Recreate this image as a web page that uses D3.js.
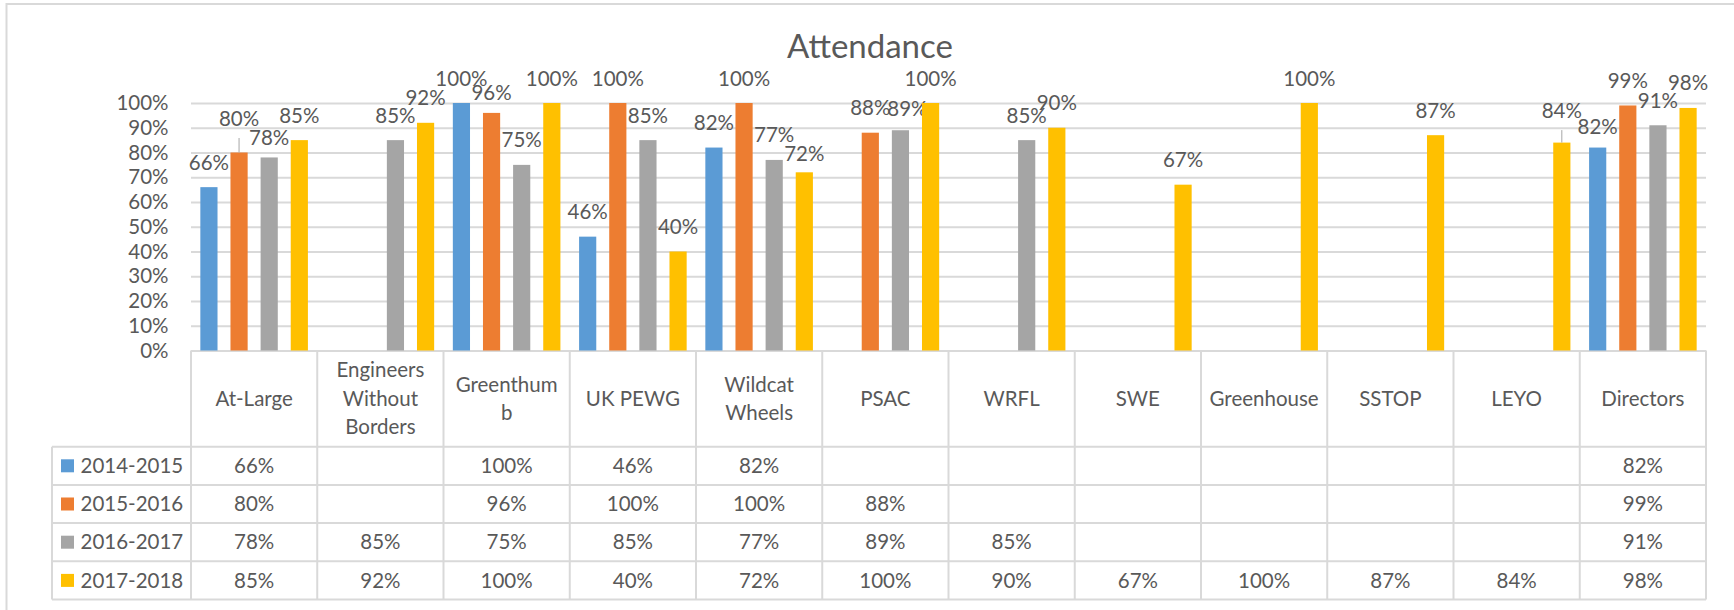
<!DOCTYPE html>
<html>
<head>
<meta charset="utf-8">
<script src="https://cdn.jsdelivr.net/npm/d3@7"></script>
<style>
  body { margin: 0; background: #fff; }
  text { font-family: Lato, "Open Sans", sans-serif; fill: #595959; }
</style>
</head>
<body>
<div id="chart"></div>
<script>
// chart data
const categories = ["At-Large", "Engineers Without Borders", "Greenthumb", "UK PEWG", "Wildcat Wheels",
  "PSAC", "WRFL", "SWE", "Greenhouse", "SSTOP", "LEYO", "Directors"];
// how the category names wrap in the table header
const categoryLines = [["At-Large"], ["Engineers", "Without", "Borders"], ["Greenthum", "b"], ["UK PEWG"],
  ["Wildcat", "Wheels"], ["PSAC"], ["WRFL"], ["SWE"], ["Greenhouse"], ["SSTOP"], ["LEYO"], ["Directors"]];
const seriesNames = ["2014-2015", "2015-2016", "2016-2017", "2017-2018"];
const values1415 = [0.66, null, 1.00, 0.46, 0.82, null, null, null, null, null, null, 0.82];
const values1516 = [0.80, null, 0.96, 1.00, 1.00, 0.88, null, null, null, null, null, 0.99];
const values1617 = [0.78, 0.85, 0.75, 0.85, 0.77, 0.89, 0.85, null, null, null, null, 0.91];
const values1718 = [0.85, 0.92, 1.00, 0.40, 0.72, 1.00, 0.90, 0.67, 1.00, 0.87, 0.84, 0.98];
const yTicks = [0, 0.1, 0.2, 0.3, 0.4, 0.5, 0.6, 0.7, 0.8, 0.9, 1.0];

const seriesValues = [values1415, values1516, values1617, values1718];
const colors = ["#5B9BD5", "#ED7D31", "#A5A5A5", "#FFC000"];

// labels that were dragged away from their default spot in the original
const labelNudge = {
  "At-Large|2015-2016": {dx: 0, dy: -9, leader: true},
  "LEYO|2017-2018": {dx: 0, dy: -7, leader: true},
  "At-Large|2016-2017": {dx: 0, dy: 5},
  "Greenthumb|2015-2016": {dx: 0, dy: 5},
  "Wildcat Wheels|2017-2018": {dx: 0, dy: 6},
  "Directors|2014-2015": {dx: 0, dy: 4},
  "PSAC|2016-2017": {dx: 7, dy: 3}
};

// layout
const W = 1734, H = 610;
const plot = {left: 191, right: 1706, top: 103, bottom: 350.5};
const legendLeft = 52;
const headerBottom = 446.7;
const rowH = 38.2;
const fontSize = "20.5px";
const gridColor = "#D9D9D9";

const svg = d3.select("#chart").append("svg")
  .attr("width", W)
  .attr("height", H);

// outer chart border (right and bottom fall outside the picture)
svg.append("rect")
  .attr("x", 6.5).attr("y", 4)
  .attr("width", W + 50).attr("height", H + 50)
  .attr("fill", "none")
  .attr("stroke", gridColor)
  .attr("stroke-width", 2);

// scales
const x0 = d3.scaleBand()
  .domain(categories)
  .range([plot.left, plot.right])
  .padding(0);

const x1 = d3.scaleBand()
  .domain(seriesNames)
  .range([0, x0.bandwidth()])
  .paddingInner(0.43)
  .paddingOuter(0.31);

const y = d3.scaleLinear()
  .domain([0, 1])
  .range([plot.bottom, plot.top]);

// gridlines and y tick labels
const yAxis = svg.append("g")
  .attr("transform", `translate(${plot.left},0)`)
  .call(d3.axisLeft(y)
    .tickValues(yTicks)
    .tickFormat(d3.format(".0%"))
    .tickSize(-(plot.right - plot.left))
    .tickPadding(22.5));
yAxis.select(".domain").remove();
yAxis.selectAll(".tick line")
  .attr("stroke", gridColor)
  .attr("stroke-width", 2);
yAxis.selectAll(".tick text")
  .style("font-size", fontSize)
  .style("font-family", "Lato, 'Open Sans', sans-serif")
  .attr("fill", "#595959");

// bars
seriesNames.forEach((s, si) => {
  const rows = categories
    .map((c, ci) => ({cat: c, value: seriesValues[si][ci]}))
    .filter(d => d.value !== null);

  svg.append("g")
    .selectAll("rect")
    .data(rows)
    .join("rect")
      .attr("x", d => x0(d.cat) + x1(s))
      .attr("y", d => y(d.value))
      .attr("width", x1.bandwidth())
      .attr("height", d => y(0) - y(d.value))
      .attr("fill", colors[si]);

  // data labels above the bars
  const lg = svg.append("g");
  rows.forEach(d => {
    const n = labelNudge[d.cat + "|" + s] || {dx: 0, dy: 0};
    const cx = x0(d.cat) + x1(s) + x1.bandwidth() / 2;
    const base = y(d.value) - 17.5 + n.dy;
    if (n.leader) {
      lg.append("line")
        .attr("x1", cx).attr("x2", cx)
        .attr("y1", base + 12).attr("y2", y(d.value))
        .attr("stroke", "#A6A6A6")
        .attr("stroke-width", 1);
    }
    lg.append("text")
      .attr("x", cx + n.dx)
      .attr("y", base)
      .attr("text-anchor", "middle")
      .style("font-size", fontSize)
      .text(d3.format(".0%")(d.value));
  });
});

// data table under the plot
const table = svg.append("g");
const tableBottom = headerBottom + rowH * seriesNames.length;

// horizontal rules of the table
for (let r = 0; r <= seriesNames.length; r++) {
  const yy = headerBottom + r * rowH;
  table.append("line")
    .attr("x1", legendLeft).attr("x2", plot.right)
    .attr("y1", yy).attr("y2", yy)
    .attr("stroke", gridColor).attr("stroke-width", 2);
}
// vertical rules
categories.forEach(c => {
  table.append("line")
    .attr("x1", x0(c)).attr("x2", x0(c))
    .attr("y1", plot.bottom).attr("y2", tableBottom)
    .attr("stroke", gridColor).attr("stroke-width", 2);
});
table.append("line")
  .attr("x1", plot.right).attr("x2", plot.right)
  .attr("y1", plot.bottom).attr("y2", tableBottom)
  .attr("stroke", gridColor).attr("stroke-width", 2);
table.append("line")
  .attr("x1", legendLeft).attr("x2", legendLeft)
  .attr("y1", headerBottom).attr("y2", tableBottom)
  .attr("stroke", gridColor).attr("stroke-width", 2);

// header: category names
const headerMid = (plot.bottom + headerBottom) / 2;
const lineH = 28.5;
categories.forEach((c, ci) => {
  const lines = categoryLines[ci];
  const t = table.append("text")
    .attr("text-anchor", "middle")
    .style("font-size", fontSize);
  lines.forEach((ln, li) => {
    t.append("tspan")
      .attr("x", x0(c) + x0.bandwidth() / 2)
      .attr("y", headerMid + (li - (lines.length - 1) / 2) * lineH)
      .attr("dy", "0.35em")
      .text(ln);
  });
});

// rows: legend key + values
seriesNames.forEach((s, si) => {
  const mid = headerBottom + si * rowH + rowH / 2;
  table.append("rect")
    .attr("x", 61).attr("y", mid - 6.5)
    .attr("width", 13).attr("height", 13)
    .attr("fill", colors[si]);
  table.append("text")
    .attr("x", 80.5).attr("y", mid)
    .attr("dy", "0.35em")
    .style("font-size", fontSize)
    .text(s);
  categories.forEach((c, ci) => {
    const v = seriesValues[si][ci];
    if (v === null) return;
    table.append("text")
      .attr("x", x0(c) + x0.bandwidth() / 2)
      .attr("y", mid)
      .attr("dy", "0.35em")
      .attr("text-anchor", "middle")
      .style("font-size", fontSize)
      .text(d3.format(".0%")(v));
  });
});

// title
svg.append("text")
  .attr("x", 870)
  .attr("y", 58)
  .attr("text-anchor", "middle")
  .style("font-size", "33px")
  .text("Attendance");
</script>
</body>
</html>
